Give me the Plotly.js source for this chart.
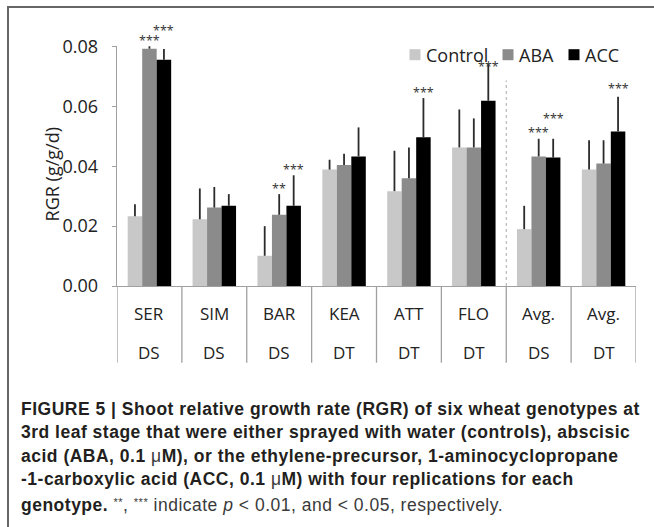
<!DOCTYPE html>
<html><head><meta charset="utf-8">
<script src="https://cdn.plot.ly/plotly-3.0.1.min.js"></script>
<style>
html,body{margin:0;padding:0;background:#fff;}
#wrap{position:relative;width:654px;height:527px;overflow:hidden;}
#chart{position:absolute;left:0;top:0;width:654px;height:527px;}
#frame{position:absolute;left:7px;top:6px;width:700px;height:600px;border-left:2px solid #666;border-top:2px solid #666;pointer-events:none;}
#caption{position:absolute;left:21px;top:398px;font-family:"Liberation Sans",Arial,sans-serif;font-size:17.5px;letter-spacing:0.5px;line-height:23.3px;color:#231f20;white-space:nowrap;}
#caption b{font-weight:bold;}
#caption .n{color:#3a3a3a;font-weight:normal;}
#caption .s{font-size:11px;vertical-align:5px;}
</style></head>
<body><div id="wrap"><div id="chart"></div><div id="frame"></div>
<div id="caption"><b>FIGURE 5 | Shoot relative growth rate (RGR) of six wheat genotypes at</b><br><b>3rd leaf stage that were either sprayed with water (controls), abscisic</b><br><b>acid (ABA, 0.1 <span class="n">μ</span>M), or the ethylene-precursor, 1-aminocyclopropane</b><br><b>-1-carboxylic acid (ACC, 0.1 <span class="n">μ</span>M) with four replications for each</b><br><b>genotype.</b><span class="n"> <span class="s">**</span>, <span class="s">***</span> indicate <i>p</i> &lt; 0.01, and &lt; 0.05, respectively.</span></div>
</div>
<script>
// ---- data ----
const genotypes = ['SER','SIM','BAR','KEA','ATT','FLO','Avg.','Avg.'];
const groups    = ['DS','DS','DS','DT','DT','DT','DS','DT'];
const seriesNames = ['Control','ABA','ACC'];
const control    = [0.0233, 0.0223, 0.0101, 0.0389, 0.0317, 0.0463, 0.0190, 0.0389];
const controlErr = [0.0040, 0.0103, 0.0099, 0.0033, 0.0135, 0.0127, 0.0078, 0.0098];
const aba        = [0.0793, 0.0262, 0.0238, 0.0404, 0.0360, 0.0463, 0.0433, 0.0409];
const abaErr     = [0.0008, 0.0069, 0.0069, 0.0038, 0.0103, 0.0097, 0.0059, 0.0078];
const acc        = [0.0756, 0.0268, 0.0268, 0.0433, 0.0497, 0.0619, 0.0429, 0.0516];
const accErr     = [0.0036, 0.0039, 0.0102, 0.0097, 0.0131, 0.0124, 0.0063, 0.0116];
const sigControl = ['', '', '', '', '', '', '', ''];
const sigABA     = ['***', '', '**', '', '', '', '***', ''];
const sigACC     = ['***', '', '***', '', '***', '***', '***', '***'];
const yTicks = [0, 0.02, 0.04, 0.06, 0.08];
const yTitle = 'RGR (g/g/d)';

// ---- build ----
const W = 654, H = 527;
const M = {l: 117, r: 18, t: 46, b: 241};
const PW = W - M.l - M.r, PH = H - M.t - M.b;
const px2x = p => (p - M.l) / PW;
const py2y = p => (H - M.b - p) / PH;

const cats = genotypes.map((g, i) => g + ' ' + groups[i]);
const colors = ['#c8c8c8', '#8b8b8b', '#000000'];
const vals = [control, aba, acc];
const errs = [controlErr, abaErr, accErr];
const sigs = [sigControl, sigABA, sigACC];
const bargap = 0.33;
const bw = (1 - bargap) / 3;

const traces = vals.map((v, k) => ({
  type: 'bar', name: seriesNames[k], x: cats, y: v,
  marker: {color: colors[k], line: {width: 0}},
  cliponaxis: false, showlegend: false,
  error_y: {type: 'data', symmetric: false, array: errs[k], arrayminus: v.map(() => 0),
            color: '#2b2b2b', thickness: 1.8, width: 0}
}));

const annotations = [];
const shapes = [];
// y-axis title
annotations.push({x: px2x(51.7), y: py2y(174.7), xref: 'paper', yref: 'paper', text: yTitle,
  textangle: -90, showarrow: false, xanchor: 'center', yanchor: 'middle',
  font: {family: 'Open Sans', size: 18, color: '#222'}});
// category labels (two rows)
cats.forEach((c, i) => {
  annotations.push({x: c, y: 0, xref: 'x', yref: 'y', text: genotypes[i], showarrow: false,
    yanchor: 'middle', yshift: -27, font: {family: 'Open Sans', size: 17, color: '#222'}});
  annotations.push({x: c, y: 0, xref: 'x', yref: 'y', text: groups[i], showarrow: false,
    yanchor: 'middle', yshift: -66, font: {family: 'Open Sans', size: 17, color: '#222'}});
});
// significance stars (pixel lift above the error bar top)
const lift = {'2-0': 19, '2-6': 21, '2-5': -2, '2-7': 9};
sigs.forEach((s, k) => s.forEach((t, i) => {
  if (!t) return;
  const extra = lift[k + '-' + i] !== undefined ? lift[k + '-' + i] : 7;
  annotations.push({x: i + (k - 1) * bw, y: vals[k][i] + errs[k][i], xref: 'x', yref: 'y',
    text: t, showarrow: false, yanchor: 'middle', yshift: extra - 1,
    font: {family: 'Open Sans', size: 12.5, color: '#333'}});
}));
// legend (custom, positioned like the reference)
const legendTextPx = [426, 519, 585];
const legendY = py2y(55);
seriesNames.forEach((n, k) => {
  annotations.push({x: px2x(legendTextPx[k] - 2), y: legendY, xref: 'paper', yref: 'paper',
    xanchor: 'left', yanchor: 'middle', text: n, showarrow: false,
    font: {family: 'Open Sans', size: 18, color: '#222'}});
  shapes.push({type: 'rect', xref: 'paper', yref: 'paper', xsizemode: 'pixel', ysizemode: 'pixel',
    xanchor: px2x(legendTextPx[k] - 11), yanchor: py2y(54.7), x0: -5.5, x1: 5.5, y0: -5.5, y1: 5.5,
    fillcolor: colors[k], line: {width: 0}});
});

for (let i = 0; i <= cats.length; i++) {
  shapes.push({type: 'line', xref: 'x', yref: 'paper', x0: i - 0.5, x1: i - 0.5, y0: 0, y1: -(362.7 - (H - M.b)) / PH,
    line: {color: '#a0a0a0', width: 1.3}});
}
shapes.push({type: 'line', xref: 'x', yref: 'y', x0: 5.5, x1: 5.5, y0: 0, y1: 0.0687,
  line: {color: '#aaaaaa', width: 1, dash: 'dot'}});

const layout = {
  width: W, height: H,
  margin: M,
  paper_bgcolor: '#fff', plot_bgcolor: '#fff',
  barmode: 'group', bargap: bargap, bargroupgap: 0,
  showlegend: false,
  xaxis: {type: 'category', range: [-0.5, cats.length - 0.5], showticklabels: false, ticks: '',
    showline: true, linecolor: '#a0a0a0', linewidth: 1.3, showgrid: false, zeroline: false, fixedrange: true},
  yaxis: {range: [0, 0.0802], tickvals: yTicks, tickformat: '.2f', ticks: 'outside', ticklen: 4,
    tickcolor: '#a0a0a0', showline: true, linecolor: '#a0a0a0', linewidth: 1.3, showgrid: false,
    zeroline: false, ticklabelstandoff: 10,
    tickfont: {family: 'Open Sans', size: 18, color: '#222'},
    automargin: false},
  annotations: annotations,
  shapes: shapes
};
Plotly.newPlot('chart', traces, layout, {displayModeBar: false, staticPlot: true});
</script>
</body></html>
